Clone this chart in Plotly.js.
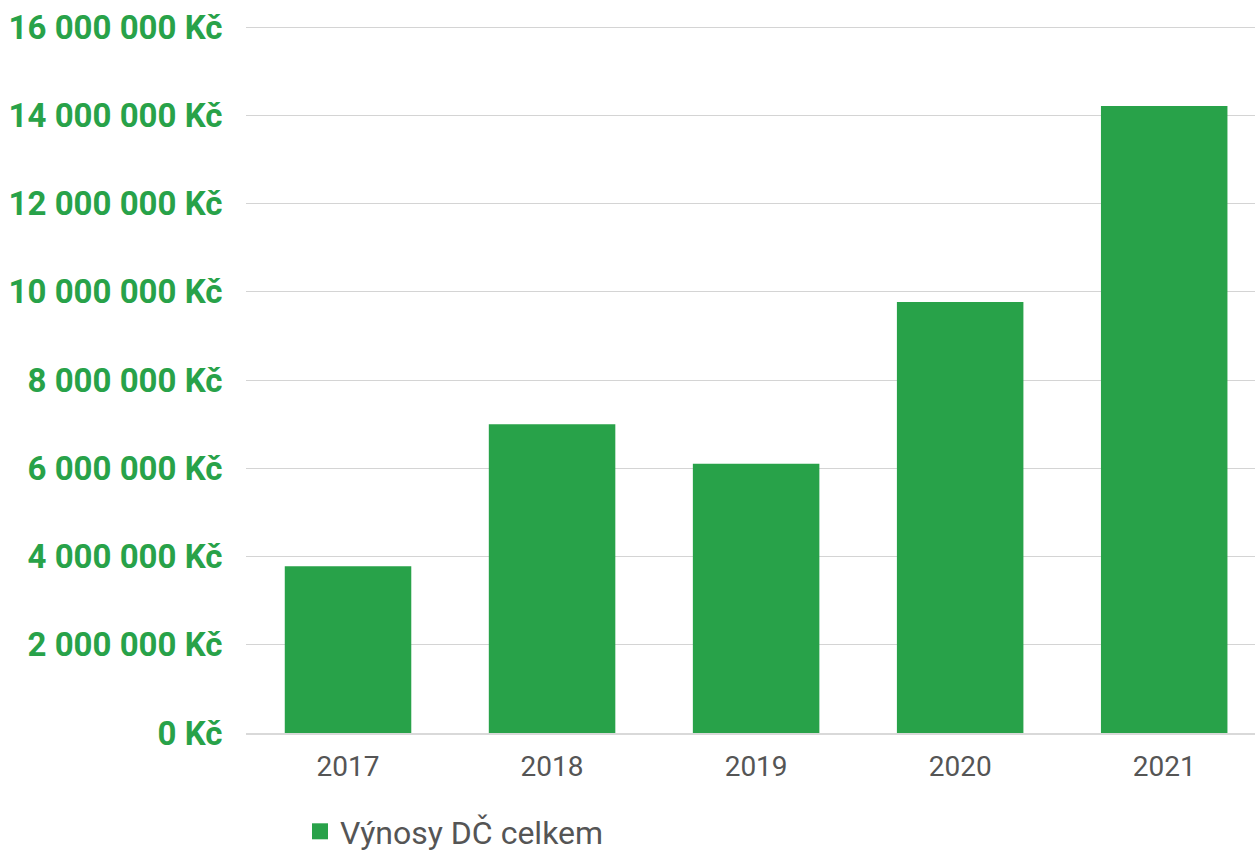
<!DOCTYPE html>
<html>
<head>
<meta charset="utf-8">
<script src="https://cdn.plot.ly/plotly-3.0.1.min.js"></script>
<style>html,body{margin:0;padding:0;background:#fff;}#chart{width:1255px;height:852px;}</style>
</head>
<body>
<div id="chart"></div>
<script>
const years = ["2017", "2018", "2019", "2020", "2021"];
const vynosy = [3780000, 7000000, 6100000, 9770000, 14210000];
const seriesName = "Výnosy DČ celkem";
const yTickVals = [0, 2000000, 4000000, 6000000, 8000000, 10000000, 12000000, 14000000, 16000000];
const yTickText = ["0 Kč", "2 000 000 Kč", "4 000 000 Kč", "6 000 000 Kč", "8 000 000 Kč", "10 000 000 Kč", "12 000 000 Kč", "14 000 000 Kč", "16 000 000 Kč"];

const green = "#28a249";
const data = [{
  type: "bar",
  x: years,
  y: vynosy,
  name: seriesName,
  marker: {color: green, line: {width: 0}},
  hoverinfo: "none",
  showlegend: false
}, {
  type: "scatter",
  mode: "markers",
  x: [null],
  y: [null],
  name: seriesName,
  marker: {color: green, symbol: "square", size: 16},
  hoverinfo: "none",
  showlegend: true
}];
const layout = {
  width: 1255, height: 852,
  margin: {l: 246, r: 0, t: 9, b: 119, pad: 0},
  paper_bgcolor: "#fff", plot_bgcolor: "#fff",
  font: {family: "Roboto, sans-serif"},
  bargap: 0.38,
  showlegend: true,
  legend: {orientation: "h", xref: "container", x: 300 / 1255, xanchor: "left",
    yref: "container", y: 48 / 852, yanchor: "top",
    font: {size: 32, color: "#555", family: "Roboto, sans-serif"}, itemsizing: "trace"},
  xaxis: {type: "category", range: [-0.5, 4.445], showgrid: false, zeroline: false,
    showline: true, linecolor: "#d9d9d9", linewidth: 2, ticks: "outside", ticklen: 7, tickcolor: "rgba(0,0,0,0)",
    tickfont: {size: 28, color: "#555"}},
  yaxis: {range: [0, 16408000], tickvals: yTickVals, ticktext: yTickText, showgrid: true, gridcolor: "#d4d4d4", gridwidth: 1,
    zeroline: false, showline: false, ticks: "outside", ticklen: 16, tickcolor: "rgba(0,0,0,0)",
    tickfont: {size: 33, color: green, family: "Roboto, sans-serif", weight: "bold"}}
};
Plotly.newPlot("chart", data, layout, {staticPlot: true, displayModeBar: false});
</script>
</body>
</html>
